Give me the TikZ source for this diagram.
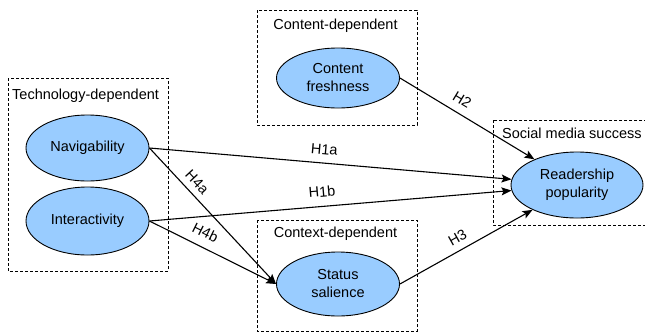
\documentclass[tikz,border=0pt]{standalone}
\usepackage{fontspec}
\setmainfont{Liberation Sans}
\usetikzlibrary{arrows.meta,shapes.geometric}
\definecolor{cfill}{RGB}{153,204,255}

\begin{document}
\begin{tikzpicture}[x=1pt,y=-1pt,
  txt/.style={font=\fontsize{14.5}{18}\selectfont},
  construct/.style={txt, ellipse, draw=black, line width=0.9pt, fill=cfill,
    minimum width=123pt, minimum height=64pt, inner sep=0pt, align=center},
  groupbox/.style={draw=black, dash pattern=on 3pt off 2pt, line width=0.9pt},
  grouplabel/.style={txt, inner sep=0pt},
  hyp/.style={-{Stealth[length=10pt,width=8pt,inset=2pt]}, line width=1.1pt},
  hlabel/.style={txt, sloped, inner sep=0pt, text height=10.5pt, text depth=0pt}
]
\useasboundingbox (0,0) rectangle (645,333);

% dashed group frames
\draw[groupbox] (8,78) rectangle (168,271);
\draw[groupbox] (257,10) rectangle (417,125);
\draw[groupbox] (257,220) rectangle (417,331);
\draw[groupbox] (493,120) rectangle (650,225);

% group titles
\node[grouplabel, anchor=base west] (tdl) at (12,99) {Technology-dependent};
\node[grouplabel, anchor=base] (cdl) at (335.5,29) {Content-dependent};
\node[grouplabel, anchor=base] (xdl) at (335.5,237) {Context-dependent};
\node[grouplabel, anchor=base west] (sml) at (502,138) {Social media success};

% constructs
\node[construct, minimum height=66pt] (nav) at (87.5,148) {Navigability};
\node[construct, minimum height=68pt] (int) at (87.5,221) {Interactivity};
\node[construct, minimum height=60pt] (cf) at (338,78) {Content\\freshness};
\node[construct] (ss) at (338,284) {Status\\salience};
\node[construct, minimum width=132pt, minimum height=66pt] (rp) at (577,185) {Readership\\popularity};

% hypotheses
\draw[hyp] (nav.east) -- (rp) node[hlabel, pos=0.48, above=8pt] {H1a};
\draw[hyp] (int.east) -- (rp) node[hlabel, pos=0.48, above=9pt] {H1b};
\draw[hyp] (cf.east) -- (rp) node[hlabel, pos=0.41, above=8pt] {H2};
\draw[hyp] (ss.east) -- (rp) node[hlabel, pos=0.48, above=7pt] {H3};
\draw[hyp] (nav.east) -- (ss.west) node[hlabel, pos=0.31, above=6pt] {H4a};
\draw[hyp] (int.east) -- (ss.west) node[hlabel, pos=0.39, above=9pt] {H4b};
\end{tikzpicture}
\end{document}
